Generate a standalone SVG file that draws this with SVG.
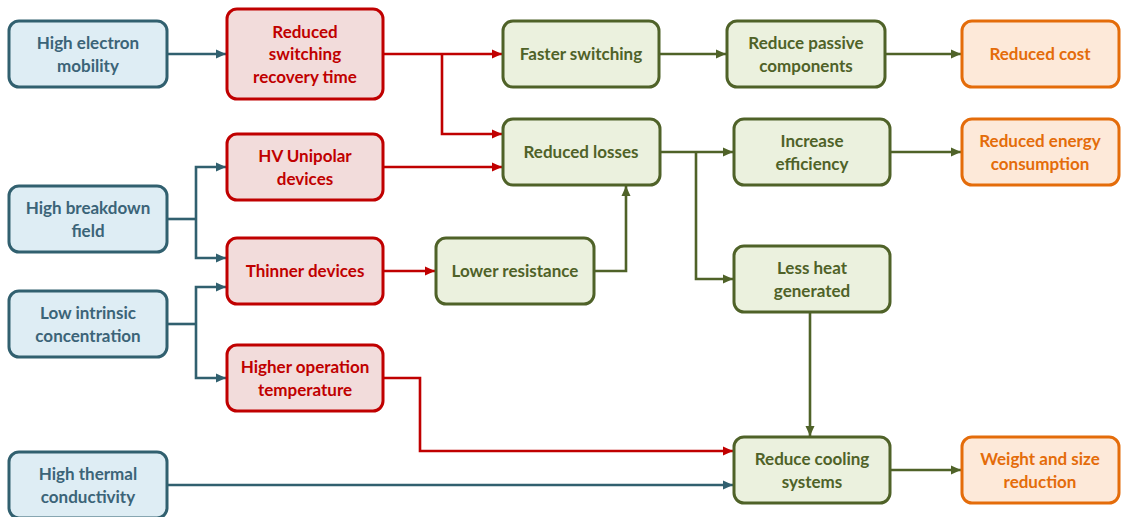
<svg xmlns="http://www.w3.org/2000/svg" width="1122" height="517" viewBox="0 0 1122 517">
  <style>
    .box { stroke-width: 3; }
    .blue rect { fill: #deedf4; stroke: #31606f; }
    .red rect { fill: #f2dcdb; stroke: #c00000; }
    .green rect { fill: #ebf1de; stroke: #4f6228; }
    .orange rect { fill: #fde9d9; stroke: #e46c0a; }
    text { font-family: Lato, "Open Sans", "Liberation Sans", sans-serif; font-weight: bold; font-size: 17px; text-anchor: middle; dominant-baseline: central; }
    .blue text { fill: #3b6478; }
    .red text { fill: #c00000; }
    .green text { fill: #4f6228; }
    .orange text { fill: #e46c0a; }
    .c { fill: none; stroke-width: 2.6; stroke-linejoin: miter; }
    .cb { stroke: #31606f; marker-end: url(#ab); }
    .cr { stroke: #c00000; marker-end: url(#ar); }
    .cg { stroke: #4f6228; marker-end: url(#ag); }
    .nb { stroke: #31606f; }
    .nr { stroke: #c00000; }
    .ng { stroke: #4f6228; }
  </style>
  <defs>
    <marker id="ab" markerUnits="userSpaceOnUse" markerWidth="11" markerHeight="10" refX="10" refY="5" orient="auto">
      <path d="M0,0.5 L10,5 L0,9.5 z" fill="#31606f"/>
    </marker>
    <marker id="ar" markerUnits="userSpaceOnUse" markerWidth="11" markerHeight="10" refX="10" refY="5" orient="auto">
      <path d="M0,0.5 L10,5 L0,9.5 z" fill="#c00000"/>
    </marker>
    <marker id="ag" markerUnits="userSpaceOnUse" markerWidth="11" markerHeight="10" refX="10" refY="5" orient="auto">
      <path d="M0,0.5 L10,5 L0,9.5 z" fill="#4f6228"/>
    </marker>
  </defs>

  <!-- connectors -->
  <g id="connectors">
    <!-- material properties -->
    <path class="c cb" d="M167,54 H226"/>
    <path class="c nb" d="M167,219 H196"/>
    <path class="c cb" d="M196,219 V167 H226"/>
    <path class="c cb" d="M196,219 V258 H226"/>
    <path class="c nb" d="M167,324 H196"/>
    <path class="c cb" d="M196,324 V287 H226"/>
    <path class="c cb" d="M196,324 V378 H226"/>
    <path class="c cb" d="M167,485 H733"/>
    <!-- device effects -->
    <path class="c cr" d="M384,54 H502"/>
    <path class="c cr" d="M442,54 V134 H502"/>
    <path class="c cr" d="M384,167 H502"/>
    <path class="c cr" d="M384,271 H435"/>
    <path class="c cr" d="M384,378 H420 V451 H733"/>
    <!-- system effects -->
    <path class="c cg" d="M659,54 H726"/>
    <path class="c cg" d="M886,54 H961"/>
    <path class="c cg" d="M661,152 H733"/>
    <path class="c cg" d="M696,152 V279 H733"/>
    <path class="c cg" d="M594,271 H626 V186"/>
    <path class="c cg" d="M891,152 H961"/>
    <path class="c cg" d="M810,313 V436"/>
    <path class="c cg" d="M891,470 H961"/>
  </g>

  <!-- properties -->
  <g id="high-electron-mobility" class="blue">
    <rect class="box" x="9" y="21" width="158" height="66" rx="10"/>
    <text x="88" y="42">High electron</text>
    <text x="88" y="65">mobility</text>
  </g>
  <g id="high-breakdown-field" class="blue">
    <rect class="box" x="9" y="186" width="158" height="66" rx="10"/>
    <text x="88" y="207">High breakdown</text>
    <text x="88" y="230">field</text>
  </g>
  <g id="low-intrinsic-concentration" class="blue">
    <rect class="box" x="9" y="291" width="158" height="66" rx="10"/>
    <text x="88" y="312">Low intrinsic</text>
    <text x="88" y="335">concentration</text>
  </g>
  <g id="high-thermal-conductivity" class="blue">
    <rect class="box" x="9" y="452" width="158" height="66" rx="10"/>
    <text x="88" y="473">High thermal</text>
    <text x="88" y="496">conductivity</text>
  </g>

  <!-- device-level effects -->
  <g id="reduced-switching" class="red">
    <rect class="box" x="227" y="9" width="156" height="90" rx="10"/>
    <text x="305" y="31">Reduced</text>
    <text x="305" y="53">switching</text>
    <text x="305" y="76">recovery time</text>
  </g>
  <g id="hv-unipolar" class="red">
    <rect class="box" x="227" y="134" width="156" height="66" rx="10"/>
    <text x="305" y="155">HV Unipolar</text>
    <text x="305" y="178">devices</text>
  </g>
  <g id="thinner-devices" class="red">
    <rect class="box" x="227" y="238" width="156" height="66" rx="10"/>
    <text x="305" y="270">Thinner devices</text>
  </g>
  <g id="higher-operation-temperature" class="red">
    <rect class="box" x="227" y="345" width="156" height="66" rx="10"/>
    <text x="305" y="366">Higher operation</text>
    <text x="305" y="389">temperature</text>
  </g>

  <!-- system-level effects -->
  <g id="faster-switching" class="green">
    <rect class="box" x="503" y="21" width="156" height="66" rx="10"/>
    <text x="581" y="53">Faster switching</text>
  </g>
  <g id="reduced-losses" class="green">
    <rect class="box" x="503" y="119" width="157" height="66" rx="10"/>
    <text x="581" y="151">Reduced losses</text>
  </g>
  <g id="lower-resistance" class="green">
    <rect class="box" x="436" y="238" width="158" height="66" rx="10"/>
    <text x="515" y="270">Lower resistance</text>
  </g>
  <g id="reduce-passive-components" class="green">
    <rect class="box" x="727" y="21" width="158" height="66" rx="10"/>
    <text x="806" y="42">Reduce passive</text>
    <text x="806" y="65">components</text>
  </g>
  <g id="increase-efficiency" class="green">
    <rect class="box" x="734" y="119" width="156" height="66" rx="10"/>
    <text x="812" y="140">Increase</text>
    <text x="812" y="163">efficiency</text>
  </g>
  <g id="less-heat-generated" class="green">
    <rect class="box" x="734" y="246" width="156" height="66" rx="10"/>
    <text x="812" y="267">Less heat</text>
    <text x="812" y="290">generated</text>
  </g>
  <g id="reduce-cooling-systems" class="green">
    <rect class="box" x="734" y="437" width="156" height="66" rx="10"/>
    <text x="812" y="458">Reduce cooling</text>
    <text x="812" y="481">systems</text>
  </g>

  <!-- outcomes -->
  <g id="reduced-cost" class="orange">
    <rect class="box" x="962" y="21" width="157" height="66" rx="10"/>
    <text x="1040" y="53">Reduced cost</text>
  </g>
  <g id="reduced-energy-consumption" class="orange">
    <rect class="box" x="962" y="119" width="157" height="66" rx="10"/>
    <text x="1040" y="140">Reduced energy</text>
    <text x="1040" y="163">consumption</text>
  </g>
  <g id="weight-and-size-reduction" class="orange">
    <rect class="box" x="962" y="437" width="157" height="66" rx="10"/>
    <text x="1040" y="458">Weight and size</text>
    <text x="1040" y="481">reduction</text>
  </g>
</svg>
